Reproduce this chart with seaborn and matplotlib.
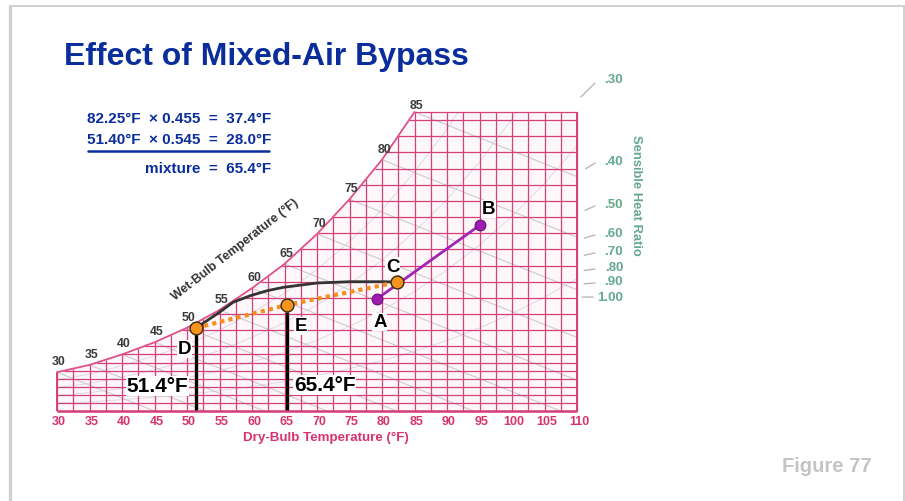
import numpy as np
import pandas as pd
import matplotlib
matplotlib.use("Agg")
import matplotlib.pyplot as plt
from matplotlib.lines import Line2D
import seaborn as sns

# ---------------- data ----------------
# saturation humidity ratio (grains/lb) by dry-bulb temperature (°F)
sat_temp = [30, 35, 40, 45, 50, 55, 60, 65, 70, 75, 80, 85, 90, 95, 100, 105, 110]
sat_grains = [24, 28.5, 35, 42.5, 51.5, 62.5, 76, 91, 109.5, 131, 155.5, 185, 218, 257, 301, 352, 410]
wb_labels = [30, 35, 40, 45, 50, 55, 60, 65, 70, 75, 80, 85]
db_ticks = [30, 35, 40, 45, 50, 55, 60, 65, 70, 75, 80, 85, 90, 95, 100, 105, 110]
shr_labels = [".30", ".40", ".50", ".60", ".70", ".80", ".90", "1.00"]
shr_label_y = [80, 162, 205, 234, 252, 268, 282, 298]  # pixel rows of scale labels
rh_levels = [0.2, 0.4, 0.6, 0.8]

point_names = ["A", "B", "C", "D", "E"]
point_db = [79.2, 95.1, 82.25, 51.4, 65.4]
point_w = [69.3, 115.1, 79.7, 51.4, 65.6]

coil_db = [51.4, 54.6, 57.1, 59.7, 62.3, 64.8, 70.0, 75.1, 80.2, 82.25]
coil_w = [51.4, 60.0, 67.3, 71.3, 74.4, 76.5, 79.2, 80.0, 80.0, 79.8]

eq_lines = ["82.25°F  × 0.455  =  37.4°F",
            "51.40°F  × 0.545  =  28.0°F",
            "mixture  =  65.4°F"]

pts = pd.DataFrame({"name": point_names, "db": point_db, "w": point_w}).set_index("name")

# ---------------- layout constants ----------------
W_PX, H_PX = 905, 502
X0_PX, X_PER = 57.0, 6.5            # 30 °F at x=57 px, 6.5 px per °F
Y0_PX, Y_PER = 412.0, 299.0 / 185   # 0 grains at y=412 px, 185 grains at y=113 px
T_MIN, T_MAX, W_TOP = 30, 110, 185

def px2data(x, y):
    return 30 + (x - X0_PX) / X_PER, (Y0_PX - y) / Y_PER

sns.set_theme(style="white")
plt.rcParams["font.family"] = ["Liberation Sans", "DejaVu Sans"]

fig = plt.figure(figsize=(W_PX / 100, H_PX / 100), dpi=100)
ax = fig.add_axes([0, 0, 1, 1])
ax.set_xlim(30 - X0_PX / X_PER, 30 + (W_PX - X0_PX) / X_PER)
ax.set_ylim(-(H_PX - Y0_PX) / Y_PER, Y0_PX / Y_PER)
ax.axis("off")

def ftxt(x, y, s, **kw):
    fig.text(x / W_PX, 1 - y / H_PX, s, **kw)

GRID = "#d5407a"
st = np.array(sat_temp, float)
sg = np.array(sat_grains, float)

# background tint under the saturation curve
ax.fill_between(st, 0, np.minimum(sg, W_TOP), color="#fef7fa", zorder=0, lw=0)

# relative-humidity curves (faint)
for rh in rh_levels:
    w = sg * rh
    m = w <= W_TOP
    tt = st[m]
    ww = w[m]
    if m.sum() < len(st):
        i = m.sum()
        t_end = np.interp(W_TOP, [w[i - 1], w[i]], [st[i - 1], st[i]])
        tt = np.append(tt, t_end)
        ww = np.append(ww, W_TOP)
    ax.plot(tt, ww, color="#d6d6de", lw=0.6, zorder=1)

# wet-bulb lines (gray diagonals)
for t in np.arange(30, 86, 5):
    w0 = np.interp(t, st, sg)
    t1 = min(T_MAX, t + w0 / 1.6)
    ax.plot([t, t1], [w0, w0 - 1.6 * (t1 - t)], color="#cbcbcb", lw=0.8, zorder=1)

# vertical grid lines
for t in np.arange(30, 110.01, 2.5):
    top = min(np.interp(t, st, sg), W_TOP)
    ax.vlines(t, 0, top, color=GRID, lw=0.9, zorder=2)
# horizontal grid lines (finer near the bottom)
h_levels = [0, 5, 10, 15, 20, 25, 30, 35] + list(range(40, 185, 10)) + [W_TOP]
for w in h_levels:
    t_left = max(30, np.interp(w, sg, st))
    ax.hlines(w, t_left, T_MAX, color=GRID, lw=0.9, zorder=2)
ax.hlines(0, 30, T_MAX, color=GRID, lw=1.8, zorder=2)
ax.vlines(T_MAX, 0, W_TOP, color=GRID, lw=1.4, zorder=2)
ax.vlines(30, 0, sg[0], color=GRID, lw=1.4, zorder=2)

# saturation curve
m = st <= 85
ax.plot(st[m], sg[m], color="#e0508a", lw=1.3, zorder=3)

# wet-bulb labels
for t in wb_labels:
    w0 = min(np.interp(t, st, sg), W_TOP)
    dy = 7 if t == 85 else 11
    ax.annotate(str(t), (t, w0), xytext=(2, dy), textcoords="offset pixels",
                ha="center", va="center", fontsize=8.8, fontweight="bold",
                color="#3a3a3a", zorder=6)

# dry-bulb tick labels
for t in db_ticks:
    ax.annotate(str(t), (t, 0), xytext=(2, -10), textcoords="offset pixels",
                ha="center", va="center", fontsize=9, fontweight="bold", color="#d8336f")
ftxt(326, 438, "Dry-Bulb Temperature (°F)", ha="center", va="center",
     fontsize=9.6, fontweight="bold", color="#d8336f")

# axis title along saturation curve
ftxt(235, 250, "Wet-Bulb Temperature (°F)", ha="center", va="center", rotation=38,
     rotation_mode="anchor", fontsize=9, fontweight="bold", color="#333333")

# sensible heat ratio scale
A_px = (X0_PX + (pts.loc["A", "db"] - 30) * X_PER, Y0_PX - pts.loc["A", "w"] * Y_PER)
for lab, ly in zip(shr_labels, shr_label_y):
    ftxt(623, ly, lab, ha="right", va="center", fontsize=9.5, fontweight="bold", color="#64a88e")
    ex, ey = 595 if lab != "1.00" else 593, ly + (4 if lab == ".30" else 2)
    if lab == "1.00":
        ey = ly
    dx, dy = A_px[0] - ex, A_px[1] - ey
    n = np.hypot(dx, dy)
    L = 20 if lab == ".30" else 11
    sx, sy = ex + dx / n * L, ey + dy / n * L
    (x1, y1), (x2, y2) = px2data(sx, sy), px2data(ex, ey)
    ax.plot([x1, x2], [y1, y2], color="#b8b8b8", lw=1.0, zorder=2, clip_on=False)
ftxt(636, 195, "Sensible Heat Ratio", ha="center", va="center", rotation=-90,
     fontsize=9.4, fontweight="bold", color="#64a88e")

# ---------------- process lines ----------------
sns.lineplot(x=[pts.loc["A", "db"], pts.loc["B", "db"]], y=[pts.loc["A", "w"], pts.loc["B", "w"]],
             sort=False, estimator=None, color="#a324b3", lw=2.0, ax=ax, zorder=7)
sns.lineplot(x=coil_db, y=coil_w, sort=False, estimator=None, color="#333333", lw=2.0,
             ax=ax, zorder=7)
mix = pts.loc[["D", "E", "C"]]
sns.lineplot(x=mix["db"].tolist(), y=mix["w"].tolist(), sort=False, estimator=None,
             color="#f5901e", lw=3.0, linestyle=(0, (1, 1)), ax=ax, zorder=8)

# vertical black markers at D and E
ax.vlines(pts.loc["D", "db"], 0.6, pts.loc["D", "w"], color="black", lw=2.4, zorder=8)
ax.vlines(pts.loc["E", "db"], 0.6, pts.loc["E", "w"] - 4.5, color="black", lw=2.4, zorder=8)

# points
pp = pts.loc[["A", "B"]]
sns.scatterplot(x=pp["db"], y=pp["w"], s=60, color="#a01bb0", edgecolor="#6a0f75",
                linewidth=0.8, ax=ax, zorder=9)
po = pts.loc[["C", "D", "E"]]
sns.scatterplot(x=po["db"], y=po["w"], s=85, color="#f7941d", edgecolor="#3a2a10",
                linewidth=1.0, ax=ax, zorder=10)

# point letters
letter_off = {"A": (3, -23), "B": (8, 16), "C": (-4, 16), "D": (-12, -21), "E": (14, -21)}
for nm in point_names:
    ox, oy = letter_off[nm]
    ax.annotate(nm, (pts.loc[nm, "db"], pts.loc[nm, "w"]), xytext=(ox, oy),
                textcoords="offset pixels", ha="center", va="center", fontsize=13.5,
                fontweight="bold", color="black", zorder=11,
                bbox=dict(facecolor="white", edgecolor="none", pad=0.5))

# temperature value labels
ax.annotate("51.4°F", (pts.loc["D", "db"], 0), xytext=(-8, 25), textcoords="offset pixels",
            ha="right", va="center", fontsize=15, fontweight="bold", color="black", zorder=11,
            bbox=dict(facecolor="white", edgecolor="none", pad=0.5))
ax.annotate("65.4°F", (pts.loc["E", "db"], 0), xytext=(7, 26), textcoords="offset pixels",
            ha="left", va="center", fontsize=15, fontweight="bold", color="black", zorder=11,
            bbox=dict(facecolor="white", edgecolor="none", pad=0.5))

# ---------------- title, equations, frame ----------------
BLUE = "#0a2d9c"
ftxt(64, 65, "Effect of Mixed-Air Bypass", ha="left", va="baseline", fontsize=23,
     fontweight="bold", color=BLUE)
for s, yb in zip(eq_lines, [123, 144, 173]):
    ftxt(271, yb, s, ha="right", va="baseline", fontsize=11, fontweight="bold", color=BLUE)
fig.add_artist(Line2D([88 / W_PX, 269 / W_PX], [1 - 152 / H_PX] * 2, color=BLUE, lw=1.8))

ftxt(872, 467, "Figure 77", ha="right", va="center", fontsize=14.5, fontweight="bold",
     color="#c4c4c4")

fig.add_artist(Line2D([10 / W_PX, 10 / W_PX], [0, 1 - 7 / H_PX], color="#d0d0d0", lw=2.4))
fig.add_artist(Line2D([10 / W_PX, 904 / W_PX], [1 - 7 / H_PX] * 2, color="#d0d0d0", lw=1.4))
fig.add_artist(Line2D([904 / W_PX, 904 / W_PX], [0, 1 - 7 / H_PX], color="#d0d0d0", lw=1.4))

fig.savefig("out.png", dpi=100)
